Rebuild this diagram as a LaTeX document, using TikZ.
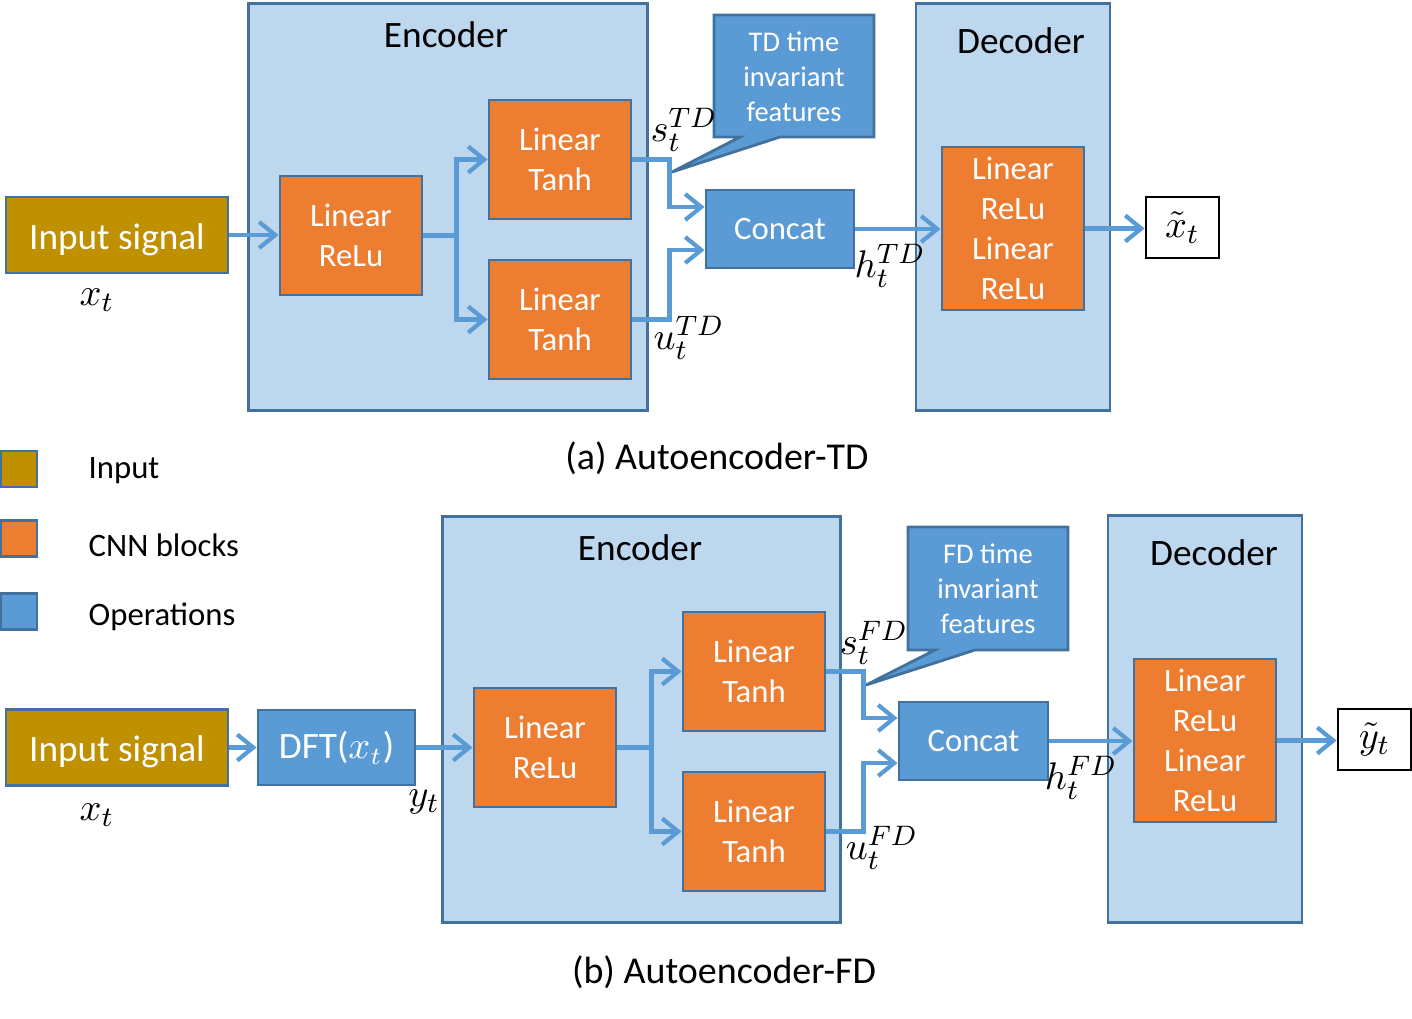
\documentclass[tikz,border=0pt]{standalone}
\usepackage{fontspec}
\setmainfont{Carlito}
\usepackage{amsmath}
\usetikzlibrary{arrows.meta}
\definecolor{inputgold}{HTML}{BF9000}
\definecolor{cnnorange}{HTML}{ED7D31}
\definecolor{opblue}{HTML}{5B9BD5}
\definecolor{encfill}{HTML}{BDD7EE}
\definecolor{edgeblue}{HTML}{41719C}

\begin{document}
\begin{tikzpicture}[x=0.01cm,y=-0.01cm]
  \tikzset{box/.style = {draw=edgeblue,line width=0.8pt,inner sep=0pt,align=center,text=white}}
  \tikzset{cnn/.style = {box,fill=cnnorange,minimum width=1.42cm,minimum height=1.19cm,font=\fontsize{9.3}{11.4}\selectfont}}
  \tikzset{op/.style = {box,fill=opblue,font=\fontsize{9.3}{11.4}\selectfont}}
  \tikzset{inp/.style = {box,fill=inputgold,minimum width=2.22cm,minimum height=0.76cm,text height=0.95em,text depth=0.15em,font=\fontsize{10.6}{12}\selectfont}}
  \tikzset{coder/.style = {draw=edgeblue,line width=0.8pt,fill=encfill,inner sep=0pt}}
  \tikzset{note/.style = {draw=edgeblue,line width=0.8pt,fill=opblue}}
  \tikzset{notetxt/.style = {inner sep=0pt,align=center,text=white,font=\fontsize{8.1}{10}\selectfont}}
  \tikzset{conn/.style = {-{Straight Barb[length=1.6mm,width=2.6mm]},draw=opblue,line width=1.2pt}}
  \tikzset{lbl/.style = {inner sep=0pt,font=\fontsize{10.6}{12}\selectfont}}
  \tikzset{captxt/.style = {inner sep=0pt,font=\fontsize{10.8}{12}\selectfont}}
  \tikzset{leg/.style = {inner sep=0pt,anchor=west,font=\fontsize{9.3}{11}\selectfont}}
  \tikzset{mlbl/.style = {inner sep=0pt,font=\fontsize{11}{13}\selectfont}}
  \tikzset{outbox/.style = {draw=black,line width=0.8pt,fill=white,minimum width=0.73cm,minimum height=0.61cm,inner sep=0pt,font=\fontsize{11}{13}\selectfont}}

\useasboundingbox (0,0) rectangle (1412,1018);

%% (a) time domain
\node[coder,minimum width=3.98cm,minimum height=4.06cm] (encA) at (448,207) {};
\node[lbl] (encAlab) at (446,35) {Encoder};
\node[coder,minimum width=1.94cm,minimum height=4.06cm] (decA) at (1013,207) {};
\node[lbl] (decAlab) at (1021,41) {Decoder};

\node[inp] (inA) at (117,235) {Input signal};
\node[cnn] (reluA) at (351,235.5) {Linear\\ReLu};
\node[cnn] (tanhA1) at (560,159.5) {Linear\\Tanh};
\node[cnn] (tanhA2) at (560,319.5) {Linear\\Tanh};
\node[op,minimum width=1.48cm,minimum height=0.78cm] (catA) at (780,229) {Concat};
\node[cnn,minimum height=1.63cm] (dnnA) at (1013,228.5) {Linear\\ReLu\\Linear\\ReLu};
\node[outbox] (outA) at (1182.5,227.5) {$\tilde{x}_t$};

\draw[note] (714,15) -- (874,15) -- (874,137) -- (780,137) -- (672,172) -- (740,137) -- (714,137) -- cycle;
\node[notetxt] (noteA) at (794,77) {TD time\\invariant\\features};

    \draw[conn] (inA.east) -- (inA.east -| reluA.west);
    \draw[conn,-] (reluA.east) -- ++(33,0) coordinate (splitA);
    \draw[conn] (splitA) |- (tanhA1);
    \draw[conn] (splitA) |- (tanhA2);
    \draw[conn] (tanhA1.east) -- ++(37,0) |- ([yshift=0.22cm]catA.west);
    \draw[conn] (tanhA2.east) -- ++(37,0) |- ([yshift=-0.21cm]catA.west);
    \draw[conn] (catA.east) -- (catA.east -| dnnA.west);
    \draw[conn] (dnnA.east) -- (dnnA.east -| outA.west);

\node[mlbl] (xA) at (97,300) {$x_t$};
\node[mlbl] (sA) at (684,130) {$s_t^{TD}$};
\node[mlbl] (uA) at (689,338) {$u_t^{TD}$};
\node[mlbl] (hA) at (890,266) {$h_t^{TD}$};
\node[captxt] (capA) at (717,458) {(a) Autoencoder-TD};

%% legend
\node[box,fill=inputgold,minimum size=0.36cm] (legIn) at (19,469) {};
\node[box,fill=cnnorange,minimum size=0.36cm] (legCnn) at (19,538.5) {};
\node[box,fill=opblue,minimum size=0.36cm] (legOp) at (19,611.5) {};
\node[leg] (legInT) at (88,471) {Input};
\node[leg] (legCnnT) at (88,545) {CNN blocks};
\node[leg] (legOpT) at (88,617) {Operations};

%% (b) frequency domain
\node[coder,minimum width=3.97cm,minimum height=4.05cm] (encB) at (641.5,719.5) {};
\node[lbl] (encBlab) at (640,548) {Encoder};
\node[coder,minimum width=1.94cm,minimum height=4.06cm] (decB) at (1205,719) {};
\node[lbl] (decBlab) at (1214,553) {Decoder};

\node[inp] (inB) at (117,747.5) {Input signal};
\node[op,minimum width=1.57cm,minimum height=0.75cm,font=\fontsize{10.6}{12}\selectfont] (dftB) at (336.5,747.5) {DFT($x_t$)};
\node[cnn] (reluB) at (545,747.5) {Linear\\ReLu};
\node[cnn] (tanhB1) at (754,671.5) {Linear\\Tanh};
\node[cnn] (tanhB2) at (754,831.5) {Linear\\Tanh};
\node[op,minimum width=1.49cm,minimum height=0.78cm] (catB) at (973.5,741) {Concat};
\node[cnn,minimum height=1.63cm] (dnnB) at (1205,740.5) {Linear\\ReLu\\Linear\\ReLu};
\node[outbox] (outB) at (1374.5,739.5) {$\tilde{y}_t$};

\draw[note] (908,527) -- (1068,527) -- (1068,650) -- (975,650) -- (866,685) -- (935,650) -- (908,650) -- cycle;
\node[notetxt] (noteB) at (988,589) {FD time\\invariant\\features};

    \draw[conn] (inB.east) -- (inB.east -| dftB.west);
    \draw[conn] (dftB.east) -- (dftB.east -| reluB.west);
    \draw[conn,-] (reluB.east) -- ++(34,0) coordinate (splitB);
    \draw[conn] (splitB) |- (tanhB1);
    \draw[conn] (splitB) |- (tanhB2);
    \draw[conn] (tanhB1.east) -- ++(37,0) |- ([yshift=0.23cm]catB.west);
    \draw[conn] (tanhB2.east) -- ++(37,0) |- ([yshift=-0.22cm]catB.west);
    \draw[conn] (catB.east) -- (catB.east -| dnnB.west);
    \draw[conn] (dnnB.east) -- (dnnB.east -| outB.west);

\node[mlbl] (xB) at (97,815) {$x_t$};
\node[mlbl] (yB) at (424,802) {$y_t$};
\node[mlbl] (sB) at (874,643) {$s_t^{FD}$};
\node[mlbl] (uB) at (882,848) {$u_t^{FD}$};
\node[mlbl] (hB) at (1081,778) {$h_t^{FD}$};
\node[captxt] (capB) at (724,972) {(b) Autoencoder-FD};

\end{tikzpicture}
\end{document}
